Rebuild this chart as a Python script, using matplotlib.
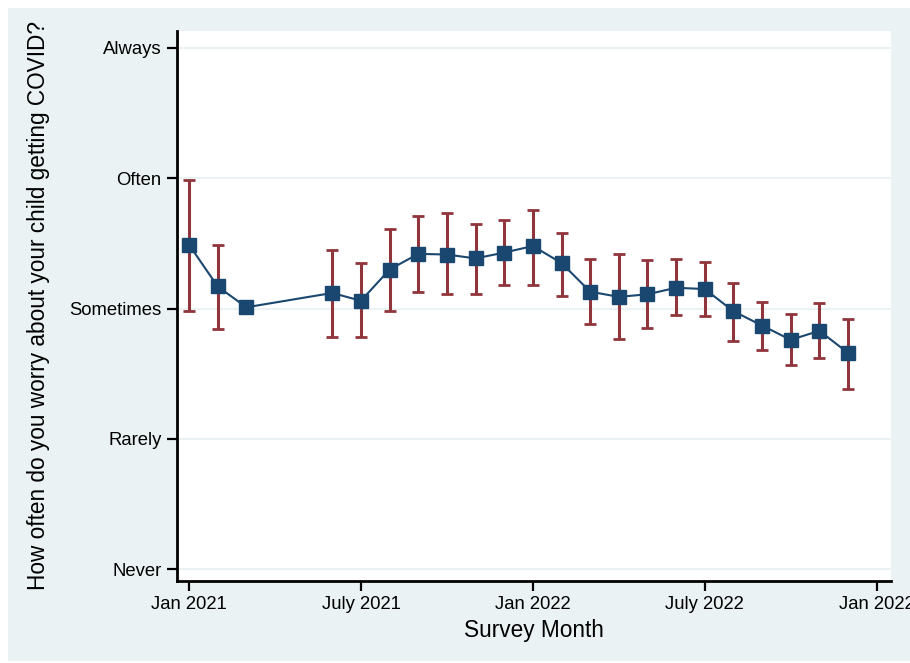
import numpy as np
import matplotlib
matplotlib.use("Agg")
import matplotlib.pyplot as plt
from matplotlib.patches import Rectangle

# months since Jan 2021
months = [0, 1, 2, 5, 6, 7, 8, 9, 10, 11, 12, 13, 14, 15, 16, 17, 18, 19, 20, 21, 22, 23]
mean = [3.49, 3.17, 3.01, 3.12, 3.06, 3.30, 3.42, 3.415, 3.385, 3.43, 3.48, 3.35,
        3.13, 3.09, 3.11, 3.16, 3.15, 2.98, 2.87, 2.76, 2.83, 2.66]
upper = [3.99, 3.49, np.nan, 3.45, 3.35, 3.61, 3.71, 3.73, 3.65, 3.68, 3.76, 3.58,
         3.38, 3.42, 3.37, 3.38, 3.36, 3.20, 3.05, 2.96, 3.04, 2.92]
lower = [2.98, 2.84, np.nan, 2.78, 2.78, 2.98, 3.13, 3.11, 3.11, 3.18, 3.18, 3.10,
         2.88, 2.77, 2.85, 2.95, 2.94, 2.75, 2.68, 2.57, 2.62, 2.38]

y_ticks = [1, 2, 3, 4, 5]
y_labels = ["Never", "Rarely", "Sometimes", "Often", "Always"]
x_ticks = [0, 6, 12, 18, 24]
x_labels = ["Jan 2021", "July 2021", "Jan 2022", "July 2022", "Jan 2022"]

navy = "#1a476f"
maroon = "#90353b"
bg = "#eaf2f3"

plt.rcParams['font.family'] = ['Liberation Sans', 'DejaVu Sans']

fig = plt.figure(figsize=(9.1, 6.63), dpi=100)
fig.patches.append(Rectangle((8 / 910, 1 - 661 / 663), 1, (661 - 8) / 663,
                             transform=fig.transFigure, facecolor=bg,
                             edgecolor='none', zorder=-1))
ax = fig.add_axes([177 / 910, 1 - 581 / 663, (891 - 177) / 910, (581 - 31) / 663])
ax.set_facecolor('white')

for yt in y_ticks:
    ax.axhline(yt, color=bg, lw=1.5, zorder=0)

m = np.array(months, dtype=float)
up = np.array(upper)
lo = np.array(lower)
mn = np.array(mean)
ok = ~np.isnan(up)
ax.errorbar(m[ok], mn[ok], yerr=[mn[ok] - lo[ok], up[ok] - mn[ok]], fmt='none',
            ecolor=maroon, elinewidth=2.2, capsize=4.5, capthick=2, zorder=2)
ax.plot(m, mn, color=navy, lw=1.5, marker='s', markersize=9.5,
        markerfacecolor=navy, markeredgecolor=navy, zorder=3)

ax.set_xlim(-0.42, 24.5)
ax.set_ylim(0.91, 5.13)
ax.set_xticks(x_ticks)
ax.set_xticklabels(x_labels, fontsize=13.3)
ax.set_yticks(y_ticks)
ax.set_yticklabels(y_labels, fontsize=13.3)
ax.tick_params(axis='both', length=7, width=1.6, color='black', pad=4)

for s in ['top', 'right']:
    ax.spines[s].set_visible(False)
for s in ['left', 'bottom']:
    ax.spines[s].set_linewidth(2)

ax.set_xlabel("Survey Month", fontsize=16.3, labelpad=4)
ax.set_ylabel("How often do you worry about your child getting COVID?", fontsize=16.3, labelpad=14)

fig.savefig("out.png", dpi=100, facecolor='white')
